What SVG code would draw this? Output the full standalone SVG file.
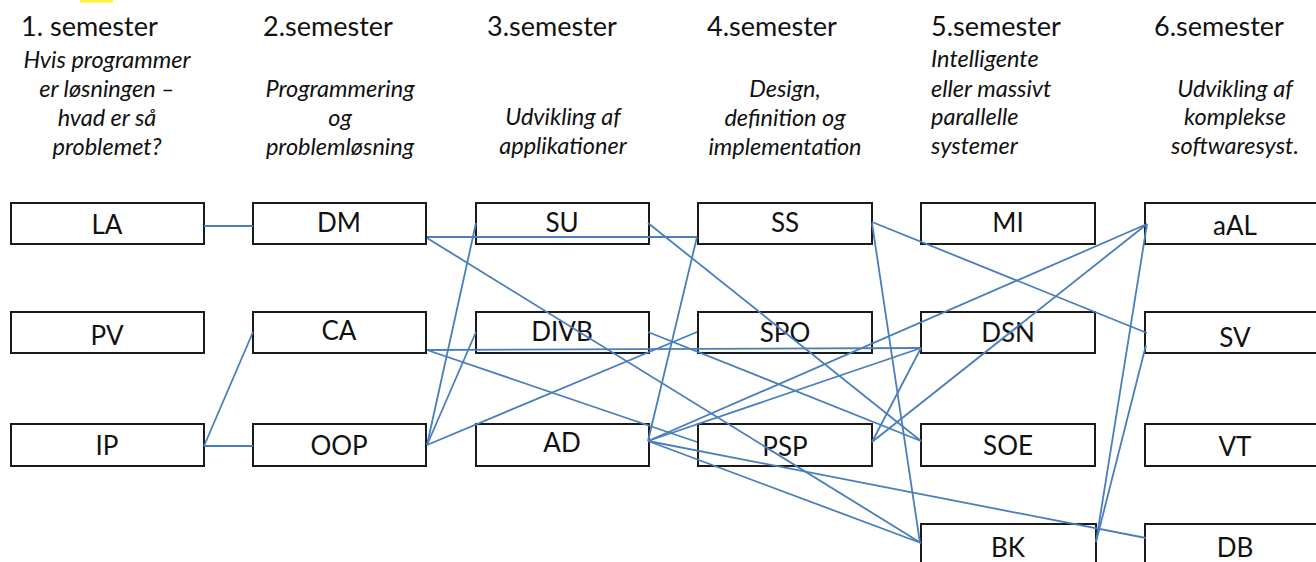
<svg xmlns="http://www.w3.org/2000/svg" width="1316" height="562" viewBox="0 0 1316 562">
<style>
.bg{fill:#ffffff}
.box rect{fill:#ffffff;stroke:#1a1a1a;stroke-width:2}
.box text{font-family:Lato,"Open Sans","Liberation Sans",sans-serif;font-size:26px;fill:#111;text-anchor:middle}
.hdr{font-family:Lato,"Open Sans","Liberation Sans",sans-serif;font-size:27px;fill:#111}
.sub{font-family:Lato,"Open Sans","Liberation Sans",sans-serif;font-size:23.5px;font-style:italic;fill:#111}
.mid{text-anchor:middle}
#connectors line{stroke:#4a7ebb;stroke-width:1.8;fill:none}
</style>
<rect class="bg" x="0" y="0" width="1316" height="562"/>
<rect x="80" y="0" width="33" height="2.5" fill="#fff03a"/>

<g id="headers">
<text class="hdr" x="21" y="36">1. semester</text>
<text class="hdr" x="263" y="36">2.semester</text>
<text class="hdr" x="487" y="36">3.semester</text>
<text class="hdr" x="707" y="36">4.semester</text>
<text class="hdr" x="931" y="36">5.semester</text>
<text class="hdr" x="1154" y="36">6.semester</text>
</g>

<g id="subtitles">
<text class="sub mid" x="107" y="68">Hvis programmer</text>
<text class="sub mid" x="107" y="97">er løsningen –</text>
<text class="sub mid" x="107" y="126">hvad er så</text>
<text class="sub mid" x="107" y="155">problemet?</text>
<text class="sub mid" x="340" y="97">Programmering</text>
<text class="sub mid" x="340" y="126">og</text>
<text class="sub mid" x="340" y="155">problemløsning</text>
<text class="sub mid" x="563" y="125">Udvikling af</text>
<text class="sub mid" x="563" y="154">applikationer</text>
<text class="sub mid" x="785" y="97">Design,</text>
<text class="sub mid" x="785" y="126">definition og</text>
<text class="sub mid" x="785" y="155">implementation</text>
<text class="sub" x="931" y="67">Intelligente</text>
<text class="sub" x="931" y="97">eller massivt</text>
<text class="sub" x="931" y="125">parallelle</text>
<text class="sub" x="931" y="154">systemer</text>
<text class="sub mid" x="1235" y="97">Udvikling af</text>
<text class="sub mid" x="1235" y="125">komplekse</text>
<text class="sub mid" x="1235" y="154">softwaresyst.</text>
</g>

<g id="LA" class="box"><rect x="11" y="203" width="193" height="41"/><text x="107" y="234">LA</text></g>
<g id="PV" class="box"><rect x="11" y="312" width="193" height="41"/><text x="107" y="345">PV</text></g>
<g id="IP" class="box"><rect x="11" y="424" width="193" height="42"/><text x="107" y="455">IP</text></g>
<g id="DM" class="box"><rect x="253" y="203" width="173" height="41"/><text x="339" y="232">DM</text></g>
<g id="CA" class="box"><rect x="253" y="312" width="173" height="41"/><text x="339" y="340">CA</text></g>
<g id="OOP" class="box"><rect x="253" y="424" width="173" height="42"/><text x="339" y="455">OOP</text></g>
<g id="SU" class="box"><rect x="476" y="203" width="173" height="41"/><text x="562" y="232">SU</text></g>
<g id="DIVB" class="box"><rect x="476" y="312" width="173" height="41"/><text x="562" y="341">DIVB</text></g>
<g id="AD" class="box"><rect x="476" y="424" width="173" height="42"/><text x="562" y="452">AD</text></g>
<g id="SS" class="box"><rect x="698" y="203" width="174" height="41"/><text x="785" y="232">SS</text></g>
<g id="SPO" class="box"><rect x="698" y="312" width="174" height="41"/><text x="785" y="342">SPO</text></g>
<g id="PSP" class="box"><rect x="698" y="424" width="174" height="42"/><text x="785" y="456">PSP</text></g>
<g id="MI" class="box"><rect x="921" y="203" width="174" height="41"/><text x="1008" y="232">MI</text></g>
<g id="DSN" class="box"><rect x="921" y="312" width="174" height="41"/><text x="1008" y="342">DSN</text></g>
<g id="SOE" class="box"><rect x="921" y="424" width="174" height="42"/><text x="1008" y="455">SOE</text></g>
<g id="BK" class="box"><rect x="921" y="524" width="175" height="50"/><text x="1008" y="557">BK</text></g>
<g id="aAL" class="box"><rect x="1145" y="203" width="180" height="41"/><text x="1235" y="235">aAL</text></g>
<g id="SV" class="box"><rect x="1145" y="312" width="180" height="41"/><text x="1235" y="347">SV</text></g>
<g id="VT" class="box"><rect x="1145" y="424" width="180" height="42"/><text x="1235" y="456">VT</text></g>
<g id="DB" class="box"><rect x="1145" y="524" width="180" height="50"/><text x="1235" y="557">DB</text></g>

<g id="connectors">
<line x1="204" y1="226" x2="253" y2="226"/>
<line x1="204" y1="446" x2="253" y2="332"/>
<line x1="204" y1="446" x2="253" y2="446"/>
<line x1="427" y1="237" x2="697" y2="237"/>
<line x1="427" y1="238" x2="921" y2="543"/>
<line x1="476" y1="223" x2="427" y2="445"/>
<line x1="476" y1="332" x2="427" y2="445"/>
<line x1="427" y1="445" x2="697" y2="332"/>
<line x1="427" y1="350" x2="921" y2="348"/>
<line x1="427" y1="350" x2="697" y2="442"/>
<line x1="648" y1="441" x2="697" y2="237"/>
<line x1="648" y1="441" x2="1147" y2="224"/>
<line x1="648" y1="441" x2="921" y2="348"/>
<line x1="648" y1="441" x2="921" y2="543"/>
<line x1="648" y1="441" x2="1146" y2="538"/>
<line x1="648" y1="223" x2="921" y2="441"/>
<line x1="648" y1="332" x2="921" y2="441"/>
<line x1="872" y1="222" x2="1147" y2="333"/>
<line x1="872" y1="223" x2="920" y2="543"/>
<line x1="872" y1="442" x2="921" y2="348"/>
<line x1="872" y1="442" x2="1147" y2="224"/>
<line x1="1096" y1="542" x2="1147" y2="224"/>
<line x1="1096" y1="542" x2="1146" y2="345"/>
</g>
</svg>
